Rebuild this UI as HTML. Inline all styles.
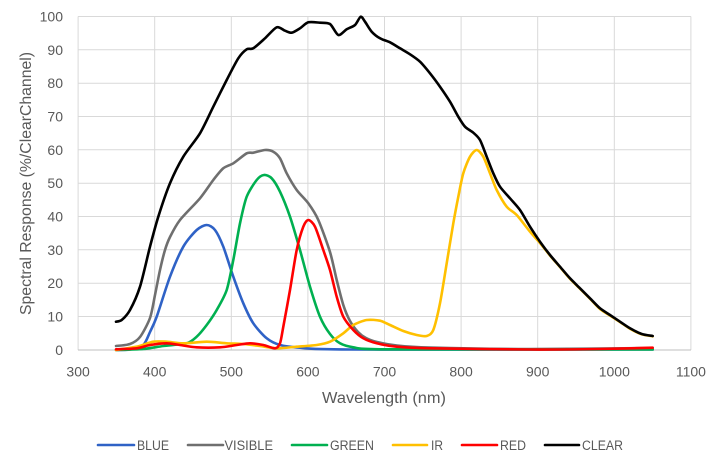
<!DOCTYPE html>
<html><head><meta charset="utf-8"><style>
html,body{margin:0;padding:0;background:#fff;}
svg{display:block;}
text{font-family:"Liberation Sans",Arial,sans-serif;fill:#595959;}
</style></head><body>
<svg id="c" width="720" height="466" viewBox="0 0 720 466" xmlns="http://www.w3.org/2000/svg">
<rect width="720" height="466" fill="#fff"/>
<g stroke="#d9d9d9" stroke-width="1" fill="none">
<line x1="78" y1="16.5" x2="691" y2="16.5"/>
<line x1="78" y1="49.8" x2="691" y2="49.8"/>
<line x1="78" y1="83.2" x2="691" y2="83.2"/>
<line x1="78" y1="116.5" x2="691" y2="116.5"/>
<line x1="78" y1="149.8" x2="691" y2="149.8"/>
<line x1="78" y1="183.2" x2="691" y2="183.2"/>
<line x1="78" y1="216.5" x2="691" y2="216.5"/>
<line x1="78" y1="249.8" x2="691" y2="249.8"/>
<line x1="78" y1="283.2" x2="691" y2="283.2"/>
<line x1="78" y1="316.5" x2="691" y2="316.5"/>
<line x1="78.1" y1="16.5" x2="78.1" y2="350"/>
<line x1="154.7" y1="16.5" x2="154.7" y2="350"/>
<line x1="231.3" y1="16.5" x2="231.3" y2="350"/>
<line x1="307.9" y1="16.5" x2="307.9" y2="350"/>
<line x1="384.5" y1="16.5" x2="384.5" y2="350"/>
<line x1="461.1" y1="16.5" x2="461.1" y2="350"/>
<line x1="537.7" y1="16.5" x2="537.7" y2="350"/>
<line x1="614.3" y1="16.5" x2="614.3" y2="350"/>
<line x1="690.9" y1="16.5" x2="690.9" y2="350"/>
</g>
<line x1="78" y1="350" x2="691" y2="350" stroke="#bfbfbf" stroke-width="1"/>
<g font-size="14" text-anchor="end">
<text x="63" y="21.5">100</text>
<text x="63" y="54.8">90</text>
<text x="63" y="88.2">80</text>
<text x="63" y="121.5">70</text>
<text x="63" y="154.8">60</text>
<text x="63" y="188.2">50</text>
<text x="63" y="221.5">40</text>
<text x="63" y="254.8">30</text>
<text x="63" y="288.2">20</text>
<text x="63" y="321.5">10</text>
<text x="63" y="355">0</text>
</g>
<g font-size="14" text-anchor="middle">
<text x="78.1" y="376.5">300</text>
<text x="154.7" y="376.5">400</text>
<text x="231.3" y="376.5">500</text>
<text x="307.9" y="376.5">600</text>
<text x="384.5" y="376.5">700</text>
<text x="461.1" y="376.5">800</text>
<text x="537.7" y="376.5">900</text>
<text x="614.3" y="376.5">1000</text>
<text x="690.9" y="376.5">1100</text>
</g>
<text x="384" y="403" font-size="15.5" text-anchor="middle" textLength="124" lengthAdjust="spacingAndGlyphs">Wavelength (nm)</text>
<text transform="translate(31,183.5) rotate(-90)" x="0" y="0" font-size="15.5" text-anchor="middle" textLength="263" lengthAdjust="spacingAndGlyphs">Spectral Response (%/ClearChannel)</text>

<g fill="none" stroke-width="2.6" stroke-linejoin="round" stroke-linecap="round">
<polyline class="s" stroke="#2F62C6" points="116,350 130,349.5 143.3,345 150,332 156.7,316.7 170,276.7 183.3,246.7 196.7,230 206.7,225 215,230 223.3,246.7 233.3,276.7 243.3,303.3 253.3,323.3 266.7,338.3 280,345 300,347.7 350,349.5 652.7,349.5"/>
<polyline class="s" stroke="#6F6F6F" points="116,346 130,344 140,337 150,318 155,295 160,270 165,250 170,237 180,220 200,198.3 213.3,180 223.3,168.3 233.3,163.3 246.7,153.3 253.3,152.7 265,150 273.3,151.7 280,158.3 286.7,173.3 296.7,190 308.3,203.3 318.3,220 330,252 336.7,280 343.3,305 350,321 358,332 366,338 377,342 397,345.5 430,347.5 530,349 652.7,348"/>
<polyline class="s" stroke="#00B050" points="116,350 143.3,349 163.3,346 186.7,343.3 196.7,336.7 206.7,325 216.7,310 226.7,290 233.3,260 240,223.3 246.7,196.7 256.7,180 264,175 271.7,178.3 280,191.7 290,216.7 300,250 310,286.7 320,316.7 330,334 340,343.3 353.3,347.3 380,349.3 652.7,349.5"/>
<polyline class="s" stroke="#FFC000" points="116,350 136.7,346.7 153.3,341.7 166.7,341.7 183.3,343.3 206.7,341.7 226.7,343.3 243.3,344 260,346 276.7,348.3 296.7,346.7 316.7,345 330,341.7 343.3,333.3 353.3,325 366.7,320 380,320.7 390,325 403.3,331 416.7,335 426.7,336 433.3,330 440,303.3 446.7,263.3 453.3,223.3 458.3,196.7 463.3,173.3 470,156.7 476.7,150 483.3,156.7 490,173.3 496.7,190 506.7,206.7 516.7,215 530,231.7 540,243 550,255.5 560,267 570,278.7 580,288.7 590,298.7 600,309 610,315.5 620,322 630,328.7 641.7,334.3 652.7,336.3"/>
<polyline class="s" stroke="#FF0000" points="116,349.3 136.7,348.3 150,345 166.7,343.3 180,345 196.7,347.3 220,347.3 236.7,345 250,343.3 263.3,345 275,348.3 280,343.3 283.3,326.7 290,290 296.7,250 303.3,226.7 308.3,220 315,226.7 323.3,250 330,270 336.7,296.7 343.3,316.7 353.3,330 363.3,338.3 376.7,343.3 396.7,346.7 430,348.3 530,349.5 600,349 652.7,347.7"/>
<polyline class="s" stroke="#000000" points="116,321.7 121.7,320 130,310 140,286.7 150,246.7 158.3,216.7 170,183.3 183.3,156.7 200,133.3 213.3,106.7 226.7,80 238.3,58.3 246.7,49.3 253.3,48.3 265,38.3 276.7,27.3 285,30.7 291.7,32.7 300,28.3 308.3,22.3 320,22.7 330,24 338.3,35 346.7,29.3 355,25 360.7,16.7 365,21.7 371.7,31.7 380,38.3 390,42.3 400,48.3 410,54.3 420,61.7 430,73.3 440,86.7 450,101.7 458.3,116.7 465,126.7 473.3,132.7 480,140 486.7,156.7 493.3,173.3 500,186.7 510,198.3 520,210 530,226.7 540,241.7 550,255 560,266.7 570,278.3 580,288.3 590,298.3 600,308.3 610,315 620,321.7 630,328.3 641.7,334 652.7,336"/>
</g>

<g stroke-width="2.6" stroke-linecap="round">
<line x1="98" y1="445" x2="134" y2="445" stroke="#2F62C6"/>
<line x1="188" y1="445" x2="223" y2="445" stroke="#6F6F6F"/>
<line x1="292" y1="445" x2="327" y2="445" stroke="#00B050"/>
<line x1="393" y1="445" x2="427" y2="445" stroke="#FFC000"/>
<line x1="462" y1="445" x2="497" y2="445" stroke="#FF0000"/>
<line x1="545" y1="445" x2="579" y2="445" stroke="#000000"/>
</g>
<g font-size="13.5">
<text x="137" y="450" textLength="32" lengthAdjust="spacingAndGlyphs">BLUE</text>
<text x="224.5" y="450" textLength="48.5" lengthAdjust="spacingAndGlyphs">VISIBLE</text>
<text x="330" y="450" textLength="44" lengthAdjust="spacingAndGlyphs">GREEN</text>
<text x="431" y="450" textLength="12" lengthAdjust="spacingAndGlyphs">IR</text>
<text x="500" y="450" textLength="26" lengthAdjust="spacingAndGlyphs">RED</text>
<text x="582" y="450" textLength="41" lengthAdjust="spacingAndGlyphs">CLEAR</text>
</g>
</svg>
<script>
(function(){
  var NS="http://www.w3.org/2000/svg";
  var pls=document.querySelectorAll("polyline.s");
  for(var k=0;k<pls.length;k++){
    var pl=pls[k];
    var raw=pl.getAttribute("points").trim().split(/\s+/);
    var p=[];
    for(var i=0;i<raw.length;i++){var a=raw[i].split(",");p.push([+a[0],+a[1]]);}
    var d="M"+p[0][0]+","+p[0][1];
    var t=0.8/6;
    for(var i=0;i<p.length-1;i++){
      var p0=p[i>0?i-1:i],p1=p[i],p2=p[i+1],p3=p[i+2<p.length?i+2:i+1];
      var c1x=p1[0]+(p2[0]-p0[0])*t,c1y=p1[1]+(p2[1]-p0[1])*t;
      var c2x=p2[0]-(p3[0]-p1[0])*t,c2y=p2[1]-(p3[1]-p1[1])*t;
      if(c1x>p2[0])c1x=p2[0]; if(c2x<p1[0])c2x=p1[0];
      d+=" C"+c1x.toFixed(2)+","+c1y.toFixed(2)+" "+c2x.toFixed(2)+","+c2y.toFixed(2)+" "+p2[0]+","+p2[1];
    }
    var path=document.createElementNS(NS,"path");
    path.setAttribute("d",d);
    path.setAttribute("stroke",pl.getAttribute("stroke"));
    pl.parentNode.replaceChild(path,pl);
  }
})();
</script>
</body></html>
